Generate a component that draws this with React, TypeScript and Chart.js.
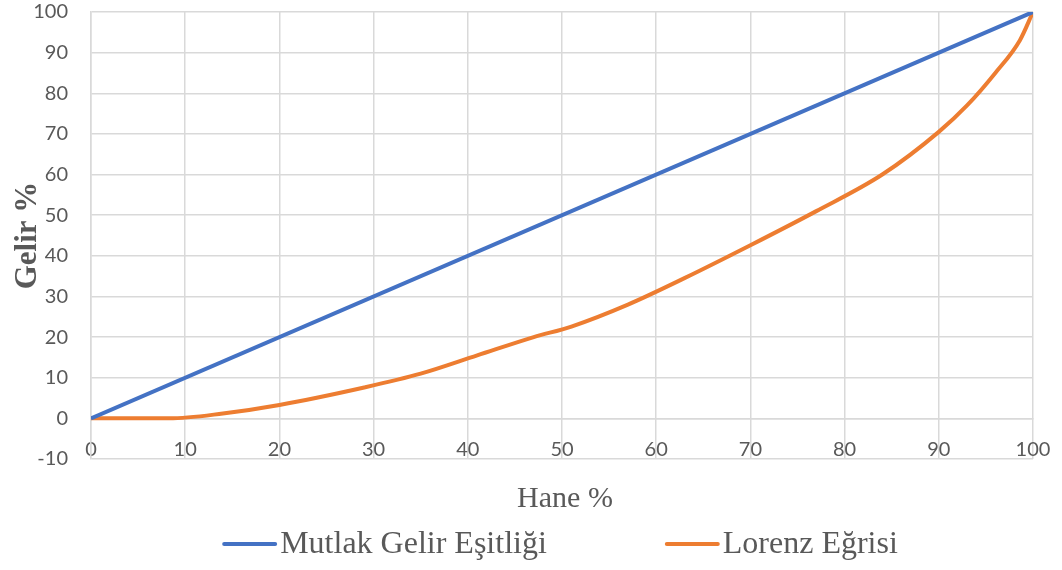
import React, { useEffect, useRef } from "react";
import { Chart, registerables } from "chart.js";

Chart.register(...registerables);

const equalityLabel = "Mutlak Gelir Eşitliği";
const lorenzLabel = "Lorenz Eğrisi";
const xTitle = "Hane %";
const yTitle = "Gelir %";

const equalityX = [0, 100];
const equalityY = [0, 100];

const lorenzX = [0, 8.3, 14, 20, 29, 35, 41, 47, 51, 57, 63, 70, 77, 84, 90, 93, 96, 98.6, 100];
const lorenzY = [0, 0, 1.2, 3.3, 7.6, 11, 15.5, 20, 22.6, 28, 34.5, 42.6, 51, 60, 70.5, 77, 85, 93, 100];

const xMin = 0, xMax = 100, xStep = 10;
const yMin = -10, yMax = 100, yStep = 10;
const xAxisCrossesAt = 0;

const BLUE = "#4472C4";
const ORANGE = "#ED7D31";
const GRID = "#D9D9D9";
const TEXT = "#595959";

const toPoints = (xs: number[], ys: number[]) => xs.map((x, i) => ({ x, y: ys[i] }));

const bottomTexts = {
  id: "bottomTexts",
  afterDraw(chart: any) {
    const { ctx, chartArea } = chart;
    const cx = (chartArea.left + chartArea.right) / 2;
    ctx.save();
    // axis title
    ctx.font = '30px "Liberation Serif", "Times New Roman", serif';
    ctx.textBaseline = "middle";
    ctx.textAlign = "center";
    ctx.fillStyle = TEXT;
    ctx.fillText(xTitle, cx + 3, chartArea.bottom + 40);
    // legend
    ctx.font = '32px "Liberation Serif", "Times New Roman", serif';
    ctx.textAlign = "left";
    const lineW = 55;
    const textGap = 3;
    const itemGap = 118;
    const items = chart.data.datasets.map((ds: any) => ({
      text: ds.label,
      color: ds.borderColor,
      w: ctx.measureText(ds.label).width,
    }));
    const total =
      items.reduce((s: number, it: any) => s + lineW + textGap + it.w, 0) +
      itemGap * (items.length - 1);
    let x = cx - total / 2 - 2;
    const y = chart.height - 26;
    items.forEach((it: any) => {
      ctx.strokeStyle = it.color;
      ctx.lineWidth = 4;
      ctx.lineCap = "round";
      ctx.beginPath();
      ctx.moveTo(x + 2, y);
      ctx.lineTo(x + lineW - 2, y);
      ctx.stroke();
      ctx.fillStyle = TEXT;
      ctx.fillText(it.text, x + lineW + textGap, y + 1);
      x += lineW + textGap + it.w + itemGap;
    });
    ctx.restore();
  },
};

export default function App() {
  const ref = useRef<HTMLCanvasElement | null>(null);

  useEffect(() => {
    if (!ref.current) return;
    const chart = new Chart(ref.current, {
      type: "scatter",
      data: {
        datasets: [
          {
            label: equalityLabel,
            data: toPoints(equalityX, equalityY),
            showLine: true,
            borderColor: BLUE,
            backgroundColor: BLUE,
            borderWidth: 4,
            pointRadius: 0,
          },
          {
            label: lorenzLabel,
            data: toPoints(lorenzX, lorenzY),
            showLine: true,
            borderColor: ORANGE,
            backgroundColor: ORANGE,
            borderWidth: 4,
            pointRadius: 0,
            cubicInterpolationMode: "monotone",
          },
        ],
      },
      options: {
        responsive: false,
        animation: false,
        layout: { padding: { top: 12, right: 29, bottom: 111, left: 0 } },
        plugins: {
          legend: { display: false },
          tooltip: { enabled: false },
        },
        scales: {
          x: {
            type: "linear",
            position: { y: xAxisCrossesAt },
            min: xMin,
            max: xMax,
            afterFit: (s: any) => {
              s.paddingLeft = 0;
              s.paddingRight = 0;
            },
            ticks: {
              stepSize: xStep,
              padding: 19,
              color: TEXT,
              font: { family: "Lato", size: 20 },
              maxRotation: 0,
            },
            grid: { color: GRID, lineWidth: 1.5, drawTicks: false },
            border: { display: true, color: GRID, width: 1.5 },
            title: { display: false },
          },
          y: {
            type: "linear",
            position: "left",
            min: yMin,
            max: yMax,
            afterFit: (s: any) => {
              s.width = 91;
              s.paddingTop = 0;
              s.paddingBottom = 0;
            },
            ticks: {
              stepSize: yStep,
              padding: 23,
              color: TEXT,
              font: { family: "Lato", size: 20 },
            },
            grid: { color: GRID, lineWidth: 1.5, drawTicks: false },
            border: { display: true, color: GRID, width: 1.5 },
            title: {
              display: true,
              text: yTitle,
              color: TEXT,
              font: { family: '"Liberation Serif", serif', size: 31, weight: "bold" },
              padding: { top: 9, bottom: 0 },
            },
          },
        },
      },
      plugins: [bottomTexts],
    });
    return () => chart.destroy();
  }, []);

  return (
    <div style={{ position: "fixed", left: 0, top: 0, width: 1062, height: 570, background: "#fff" }}>
      <canvas ref={ref} width={1062} height={570} />
    </div>
  );
}
